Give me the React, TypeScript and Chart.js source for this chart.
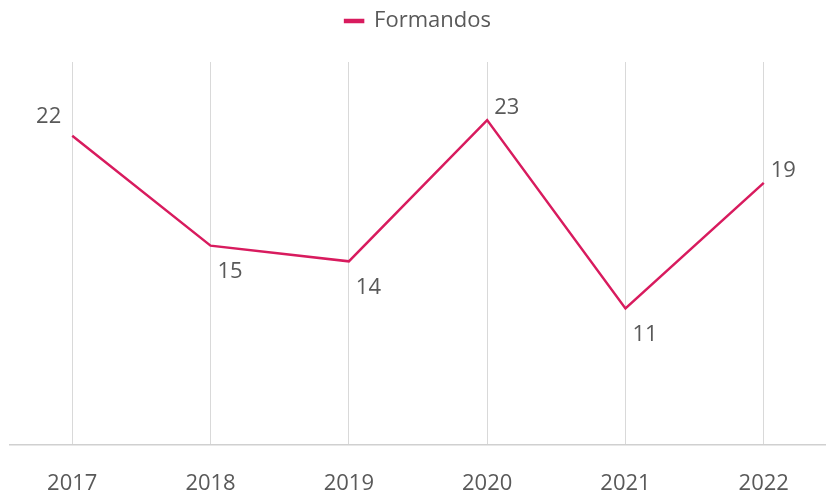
import React, { useEffect, useRef } from "react";
import { Chart, registerables } from "chart.js";

Chart.register(...registerables);

const categories = ["2017", "2018", "2019", "2020", "2021", "2022"];
const formandos = [22, 15, 14, 23, 11, 19];
const labelPlacement = ["above-left", "below-right", "below-right", "above-right", "below-right", "above-right"];

const LINE_COLOR = "#D81B5E";
const TEXT_COLOR = "#595959";
const FONT = "'Open Sans', 'Noto Sans', sans-serif";

const valueLabels = {
  id: "valueLabels",
  afterDatasetsDraw(chart: any) {
    const ctx = chart.ctx;
    const meta = chart.getDatasetMeta(0);
    ctx.save();
    ctx.font = `22px ${FONT}`;
    ctx.fillStyle = TEXT_COLOR;
    meta.data.forEach((pt: any, i: number) => {
      const pos = labelPlacement[i];
      const text = String(formandos[i]);
      if (pos === "above-left") {
        ctx.textAlign = "right";
        ctx.textBaseline = "bottom";
        ctx.fillText(text, pt.x - 11, pt.y - 8);
      } else if (pos === "above-right") {
        ctx.textAlign = "left";
        ctx.textBaseline = "bottom";
        ctx.fillText(text, pt.x + 7, pt.y - 1);
      } else {
        ctx.textAlign = "left";
        ctx.textBaseline = "top";
        ctx.fillText(text, pt.x + 7, pt.y + 15);
      }
    });
    ctx.restore();
  },
};

const legendSpacing = {
  id: "legendSpacing",
  beforeInit(chart: any) {
    const origFit = chart.legend.fit;
    chart.legend.fit = function () {
      origFit.bind(this)();
      this.height += 20;
    };
  },
};

export default function App() {
  const ref = useRef<HTMLCanvasElement | null>(null);
  useEffect(() => {
    if (!ref.current) return;
    const chart = new Chart(ref.current, {
      type: "line",
      data: {
        datasets: [
          {
            label: "Formandos",
            data: formandos.map((v, i) => ({ x: i, y: v })),
            borderColor: LINE_COLOR,
            backgroundColor: LINE_COLOR,
            borderWidth: 2.5,
            pointRadius: 0,
            tension: 0,
          },
        ],
      },
      options: {
        animation: false,
        responsive: true,
        maintainAspectRatio: false,
        layout: { padding: { left: 10, right: 0, top: 0, bottom: 0 } },
        plugins: {
          legend: {
            display: true,
            position: "top",
            labels: {
              boxWidth: 18,
              boxHeight: 2,
              padding: 10,
              color: TEXT_COLOR,
              font: { family: FONT, size: 22 },
            },
          },
          tooltip: { enabled: false },
        },
        scales: {
          x: {
            type: "linear",
            min: -0.45,
            max: 5.45,
            afterBuildTicks(scale: any) {
              scale.ticks = categories.map((_, i) => ({ value: i }));
            },
            afterFit(scale: any) {
              scale.height = 45;
            },
            grid: { display: true, color: "#d9d9d9", lineWidth: 1, drawTicks: false },
            border: { display: true, color: "#d0d0d0", width: 1.5 },
            ticks: {
              autoSkip: false,
              maxRotation: 0,
              padding: 26,
              color: TEXT_COLOR,
              font: { family: FONT, size: 22 },
              callback: (v: any) => categories[v] ?? "",
            },
          },
          y: {
            display: false,
            min: 2.3,
            max: 26.7,
          },
        },
      },
      plugins: [valueLabels, legendSpacing],
    } as any);
    return () => chart.destroy();
  }, []);
  return (
    <div style={{ position: "fixed", left: 0, top: 0, width: 826, height: 490, background: "#fff" }}>
      <canvas ref={ref} />
    </div>
  );
}
